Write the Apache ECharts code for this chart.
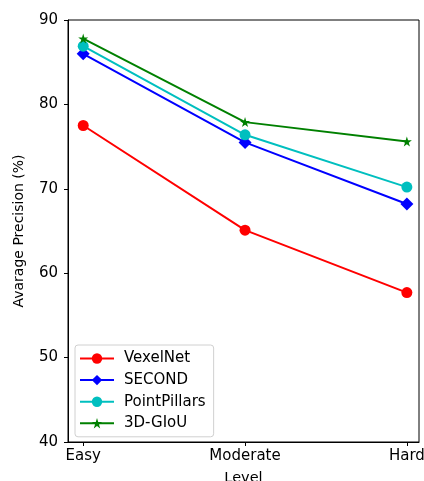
<!DOCTYPE html>
<html><head><meta charset="utf-8">
<script src="https://cdn.jsdelivr.net/npm/echarts@6/dist/echarts.min.js"></script>
<style>html,body{margin:0;padding:0;background:#fff}#c{width:424px;height:481px}</style>
</head><body><div id="c"></div>
<script>
const categories = ['Easy', 'Moderate', 'Hard'];
const vexelNet = [77.5, 65.1, 57.7];
const second = [86.0, 75.5, 68.2];
const pointPillars = [86.9, 76.4, 70.2];
const gIoU3D = [87.8, 77.9, 75.6];
const yTicks = [40, 50, 60, 70, 80, 90];

const star = 'path://M100,0L122.5,69.1L195.1,69.1L136.3,111.8L158.8,180.9L100,138.2L41.2,180.9L63.7,111.8L4.9,69.1L77.5,69.1Z';
const font = 'DejaVu Sans';
function mk(name, vals, color, symbol, size) {
  return {
    name: name, type: 'line', data: vals.map((v, i) => [i, v]),
    symbol: symbol, symbolSize: size, showSymbol: true,
    lineStyle: {color: color, width: 2}, itemStyle: {color: color},
    emphasis: {disabled: true}, animation: false
  };
}
const chart = echarts.init(document.getElementById('c'));
chart.setOption({
  animation: false,
  grid: {left: 68, top: 20, right: 5, bottom: 39, outerBoundsMode: 'none', containLabel: false, show: true, borderColor: '#000', borderWidth: 1, backgroundColor: '#fff'},
  xAxis: {
    type: 'value', min: -0.094, max: 2.075,
    name: 'Level', nameLocation: 'middle', nameGap: 29,
    nameTextStyle: {fontFamily: font, fontSize: 14.5, color: '#000'},
    axisLine: {show: true, onZero: false, lineStyle: {color: '#000'}},
    axisTick: {show: true, customValues: [0, 1, 2], length: 4, lineStyle: {color: '#000'}},
    axisLabel: {customValues: [0, 1, 2], formatter: v => categories[Math.round(v)], fontFamily: font, fontSize: 15, color: '#000', margin: 7},
    splitLine: {show: false}
  },
  yAxis: {
    type: 'value', min: yTicks[0], max: yTicks[yTicks.length - 1], interval: 10,
    name: 'Avarage Precision (%)', nameLocation: 'middle', nameGap: 42,
    nameTextStyle: {fontFamily: font, fontSize: 14, color: '#000'},
    axisLine: {show: true, onZero: false, lineStyle: {color: '#000'}},
    axisTick: {show: true, length: 4, lineStyle: {color: '#000'}},
    axisLabel: {fontFamily: font, fontSize: 15, color: '#000', margin: 10},
    splitLine: {show: false}
  },
  legend: {
    orient: 'vertical', left: 75, top: 345,
    backgroundColor: '#fff', borderColor: '#d0d0d0', borderWidth: 1, borderRadius: 3,
    padding: [6, 8, 6, 4], itemWidth: 34, itemHeight: 13, itemGap: 6.6,
    textStyle: {fontFamily: font, fontSize: 15, color: '#000', padding: [0, 0, 0, 5]},
    data: ['VexelNet', 'SECOND', 'PointPillars', '3D-GIoU']
  },
  series: [
    mk('VexelNet', vexelNet, '#ff0000', 'circle', 11),
    mk('SECOND', second, '#0000ff', 'diamond', 13),
    mk('PointPillars', pointPillars, '#00bfbf', 'circle', 11),
    mk('3D-GIoU', gIoU3D, '#008000', star, 10)
  ]
});
</script></body></html>
